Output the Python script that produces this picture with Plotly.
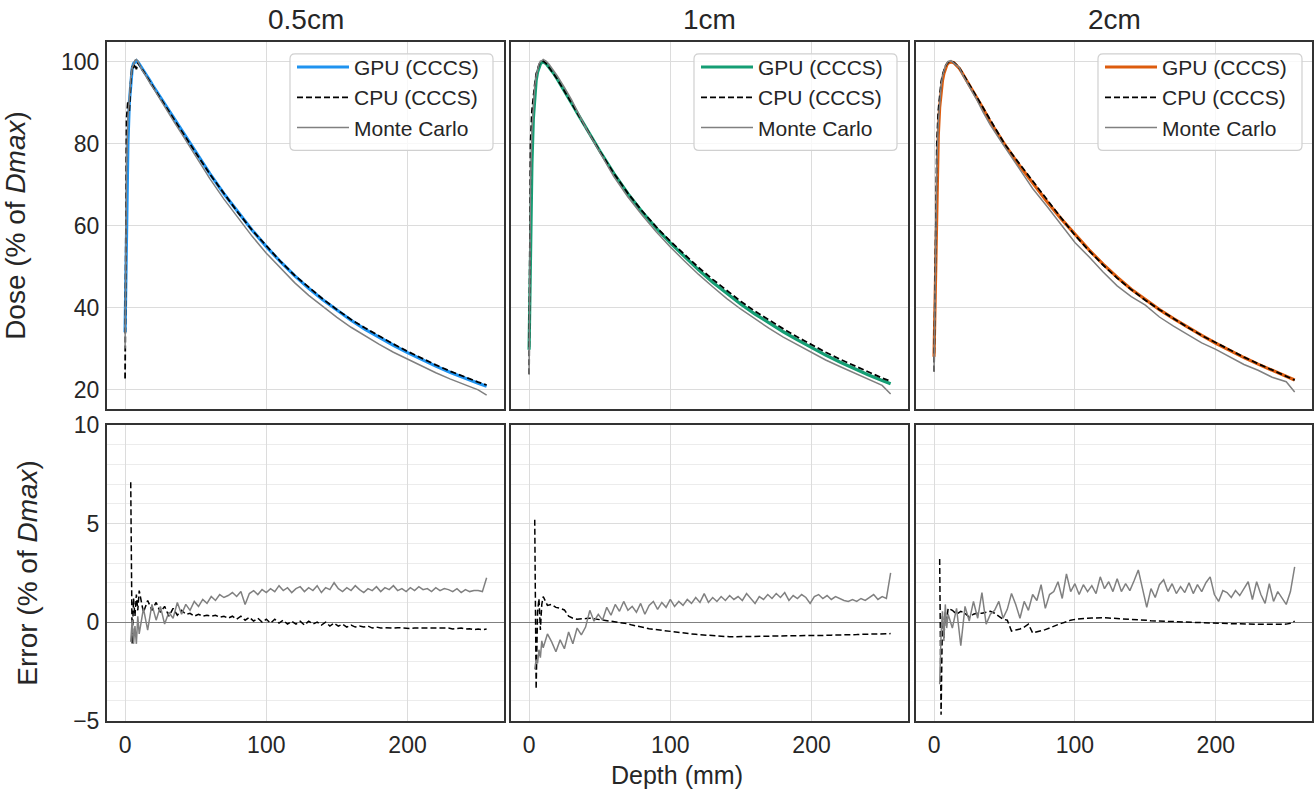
import plotly.graph_objects as go
from plotly.subplots import make_subplots

W, H = 1316, 799

FIELDS = ["0.5cm", "1cm", "2cm"]
GPU_COLORS = ["#1f93f0", "#159e74", "#dd5c0e"]

# depth grid for the dose curves (mm)
DOSE_DEPTH = [0, 1, 2, 3, 4, 5, 6, 7, 8, 9, 10,
              12, 14, 16, 18, 20, 25, 30, 35, 40,
              50, 60, 70, 80, 90, 100, 110, 120, 130, 140, 150,
              160, 170, 180, 190, 200, 210, 220, 230, 240, 250, 256]

GPU_05 = [34, 62, 80, 90, 95.5, 98.3, 99.6, 100, 100.3, 100, 99.5,
          98.4, 97.3, 96.2, 95.2, 94.0, 91.3, 88.6, 85.9, 83.2,
          77.9, 72.7, 67.8, 63.2, 58.9, 54.9, 51.2, 47.8, 44.7, 41.9, 39.3,
          36.9, 34.7, 32.7, 30.8, 29.0, 27.3, 25.7, 24.2, 22.8, 21.5, 20.8]
CPU_05 = [22.7, 86, 90.5, 88, 95, 99, 98.5, 99.5, 98.2, 99.8, 99.3,
          98.3, 97.1, 96.0, 95.0, 93.8, 91.1, 88.4, 85.7, 83.0,
          77.8, 72.6, 67.8, 63.2, 58.9, 55.0, 51.3, 47.9, 44.9, 42.1, 39.5,
          37.1, 35.0, 33.0, 31.1, 29.3, 27.6, 26.0, 24.5, 23.1, 21.8, 21.1]
MC_05 = [30, 74, 86, 92, 96, 98.5, 99.6, 100.4, 100.6, 100.2, 99.5,
         98.0, 97.0, 95.6, 94.6, 93.6, 90.7, 88.1, 85.2, 82.5,
         77.0, 71.5, 66.5, 61.8, 57.4, 53.3, 49.6, 46.1, 43.0, 40.2, 37.6,
         35.2, 33.0, 31.0, 29.1, 27.4, 25.7, 24.1, 22.6, 21.2, 19.9, 18.6]

GPU_1 = [29.7, 55, 75, 86, 92, 95.5, 97.5, 98.8, 99.5, 99.9, 100,
         99.6, 98.8, 97.9, 96.9, 95.8, 93.0, 90.0, 87.0, 84.0,
         78.3, 72.8, 67.8, 63.4, 59.4, 55.8, 52.4, 49.2, 46.2, 43.4, 40.8,
         38.4, 36.2, 34.1, 32.1, 30.2, 28.4, 26.7, 25.1, 23.6, 22.2, 21.4]
CPU_1 = [23.7, 80, 88, 92, 94.5, 97, 98.5, 99.3, 99.8, 100.1, 100.2,
         99.7, 98.8, 97.9, 96.9, 95.8, 92.9, 89.9, 86.9, 83.9,
         78.2, 72.8, 67.9, 63.6, 59.7, 56.2, 52.9, 49.8, 46.9, 44.1, 41.5,
         39.1, 36.9, 34.8, 32.8, 30.9, 29.1, 27.4, 25.8, 24.3, 22.8, 22.0]
MC_1 = [23.7, 70, 83, 90, 94, 96.5, 98.3, 99.5, 100.2, 100.3, 100.6,
        100.2, 99.5, 98.6, 97.8, 96.6, 93.8, 90.8, 87.4, 84.0,
        78.0, 72.0, 67.0, 62.6, 58.5, 54.8, 51.4, 48.1, 45.1, 42.2, 39.6,
        37.2, 34.9, 32.8, 30.9, 29.0, 27.2, 25.6, 24.0, 22.4, 21.0, 18.9]

GPU_2 = [28, 50, 70, 82, 89, 93, 95.5, 97.2, 98.4, 99.2, 99.7,
         100, 99.8, 99.2, 98.4, 97.3, 94.4, 91.5, 88.5, 85.3,
         79.9, 75.0, 70.4, 66.0, 61.8, 57.8, 54.1, 50.6, 47.4, 44.5, 41.9,
         39.5, 37.3, 35.2, 33.2, 31.3, 29.5, 27.8, 26.2, 24.7, 23.2, 22.3]
CPU_2 = [24.4, 62, 80, 88, 92, 95, 96.8, 98, 98.9, 99.5, 99.9,
         100.1, 99.9, 99.3, 98.5, 97.4, 94.5, 91.6, 88.6, 85.6,
         80.0, 75.4, 70.9, 66.4, 62.0, 57.7, 53.9, 50.4, 47.2, 44.4, 41.8,
         39.5, 37.3, 35.2, 33.2, 31.4, 29.6, 27.9, 26.3, 24.8, 23.3, 22.3]
MC_2 = [24.4, 55, 75, 85, 91, 94, 96.5, 98, 99, 99.6, 100.1,
        100.3, 99.7, 99.0, 98.6, 97.0, 94.0, 91.0, 87.6, 84.6,
        79.3, 74.2, 69.1, 64.8, 60.4, 55.9, 52.4, 48.7, 45.3, 42.7, 40.6,
        37.7, 35.5, 33.5, 31.4, 29.8, 28.0, 26.1, 24.7, 23.0, 21.9, 19.4]

# depth grid for the error curves (mm)
ERR_DEPTH = [4, 5, 6, 7, 8, 9, 10] + list(range(13, 257, 3))

CPU_ERR_05 = [7.1, -1.1, 1.2, 0.3, 1.4, 0.6, 1.6,
              0.5, 1.1, 0.6, 1.0, 0.5, 0.8, 0.3, 0.7, 0.35, 0.6,
              0.4, 0.45, 0.3, 0.4, 0.3, 0.35, 0.3, 0.35, 0.25, 0.3,
              0.2, 0.3, 0.15, 0.3, 0.1, 0.25, 0.05, 0.2, 0.0, 0.15,
              -0.05, 0.15, -0.05, 0.1, -0.1, 0.05, -0.1, 0.05, -0.15, 0.05,
              -0.1, 0.0, -0.15, 0.0, -0.2, -0.05, -0.2, -0.1, -0.25, -0.15,
              -0.25, -0.2, -0.25, -0.2, -0.3, -0.25, -0.3, -0.28, -0.3, -0.3,
              -0.28, -0.3, -0.3, -0.32, -0.3, -0.3, -0.32, -0.3, -0.3, -0.32,
              -0.3, -0.33, -0.3, -0.35, -0.32, -0.3, -0.35, -0.33, -0.38, -0.35,
              -0.38, -0.35]
MC_ERR_05 = [-1.0, 0.1, -1.1, -0.2, -1.1, 0.3, -0.6,
             0.7, -0.4, 0.9, 0.1, 0.8, -0.1, 0.5, 0.2, 1.0, 0.4,
             0.9, 0.6, 1.05, 0.8, 1.15, 0.95, 1.3, 1.1, 1.4, 1.25,
             1.35, 1.5, 1.3, 1.55, 0.9, 1.45, 1.6, 1.4, 1.65, 1.5,
             1.7, 1.55, 1.85, 1.6, 1.75, 1.5, 1.7, 1.8, 1.55, 1.75,
             1.6, 1.85, 1.5, 1.75, 1.65, 2.0, 1.7, 1.55, 1.75, 1.6,
             1.85, 1.65, 1.5, 1.7, 1.6, 1.8, 1.55, 1.75, 1.65, 1.85,
             1.6, 1.7, 1.55, 1.75, 1.6, 1.8, 1.65, 1.7, 1.55, 1.75,
             1.6, 1.7, 1.65, 1.55, 1.7, 1.5, 1.65, 1.55, 1.6, 1.6,
             1.55, 2.25]

CPU_ERR_1 = [5.2, -3.4, 0.5, 1.2, -0.4, 0.9, 1.3,
             0.85, 0.9, 0.75, 0.7, 0.62, 0.3, 0.2, 0.15, 0.15, 0.18,
             0.2, 0.17, 0.13, 0.1, 0.08, 0.05, 0.02, 0.0, -0.03, -0.08,
             -0.15, -0.2, -0.26, -0.3, -0.33, -0.36, -0.39, -0.42, -0.44, -0.46,
             -0.5, -0.53, -0.56, -0.58, -0.6, -0.62, -0.64, -0.66, -0.68, -0.7,
             -0.71, -0.72, -0.73, -0.74, -0.74, -0.74, -0.73, -0.72, -0.72, -0.71,
             -0.71, -0.71, -0.71, -0.71, -0.7, -0.7, -0.7, -0.7, -0.7, -0.7,
             -0.69, -0.69, -0.69, -0.68, -0.68, -0.67, -0.67, -0.66, -0.66, -0.65,
             -0.64, -0.64, -0.63, -0.63, -0.62, -0.62, -0.61, -0.61, -0.6, -0.6,
             -0.59, -0.58]
MC_ERR_1 = [-2.4, -1.9, -2.1, -1.4, -1.8, -0.95, -1.3,
            -0.6, -1.0, -1.5, -0.9, -1.35, -0.5, -1.1, -0.3, -0.65, -0.25,
            0.6, 0.05, 0.4, 0.1, 0.75, 0.35, 0.9, 0.55, 1.05, 0.6,
            0.8, 0.5, 0.95, 0.4, 0.85, 1.05, 0.65, 1.0, 0.75, 1.15,
            0.8, 1.05, 0.85, 1.15, 0.95, 1.25, 1.0, 1.45, 1.0, 1.25,
            1.05, 1.3, 1.1, 1.35, 1.15, 1.3, 1.1, 1.45, 1.2, 0.95,
            1.3, 1.15, 1.4, 1.2, 1.45, 1.25, 1.5, 1.1, 1.35, 1.2,
            1.4, 1.25, 0.95, 1.3, 1.4, 1.2, 1.35, 1.15, 1.3, 1.2,
            1.1, 1.05, 1.15, 1.05, 1.2, 1.1, 1.25, 1.4, 1.15, 1.3,
            1.2, 2.5]

CPU_ERR_2 = [3.2, -4.7, 0.3, -0.8, 0.5, 0.1, 0.7,
             0.6, 0.4, 0.55, 0.45, 0.25, 0.4, 0.47, 0.45, 0.5, 0.55,
             0.45, 0.3, 0.15, 0.1, -0.45, -0.4, -0.35, -0.25, -0.1, -0.55,
             -0.5, -0.45, -0.38, -0.3, -0.2, -0.12, -0.05, 0.03, 0.1, 0.14,
             0.17, 0.19, 0.2, 0.21, 0.22, 0.22, 0.22, 0.21, 0.2, 0.19,
             0.18, 0.16, 0.15, 0.13, 0.12, 0.1, 0.09, 0.07, 0.06, 0.05,
             0.04, 0.03, 0.02, 0.01, 0.0, -0.01, -0.02, -0.03, -0.03, -0.04,
             -0.05, -0.05, -0.06, -0.06, -0.07, -0.07, -0.08, -0.08, -0.09, -0.09,
             -0.1, -0.1, -0.1, -0.11, -0.11, -0.11, -0.12, -0.12, -0.11, -0.1,
             -0.06, 0.05]
MC_ERR_2 = [-3.15, -0.6, 0.55, -0.95, 0.9, -0.3, 0.4,
            -0.3, 0.7, -1.2, 0.8, 0.05, 1.05, 0.2, 1.5, -0.1, 0.4,
            0.6, 1.05, 0.2, 0.65, 1.45, 0.9, 0.2, 1.05, 0.6, 1.4,
            1.1, 1.9, 0.7, 1.4, 1.55, 2.05, 1.2, 2.45, 1.55, 1.95,
            1.4, 1.9, 1.55, 1.85, 1.45, 2.3, 1.7, 2.05, 1.55, 2.2,
            1.55, 1.95, 1.6, 2.1, 2.65, 1.7, 0.75, 1.7, 1.25, 1.9,
            2.15, 1.55, 1.95, 1.45, 1.8, 1.5, 2.0, 1.45, 1.9, 1.55,
            2.0, 2.3, 1.4, 1.05, 1.6, 1.5, 1.25, 1.6, 1.35, 1.7,
            2.05, 1.15, 2.05, 1.4, 0.95, 1.95, 1.05, 1.55, 1.2, 0.9,
            1.55, 2.8]

DOSE = [(GPU_05, CPU_05, MC_05), (GPU_1, CPU_1, MC_1), (GPU_2, CPU_2, MC_2)]
ERRS = [(CPU_ERR_05, MC_ERR_05), (CPU_ERR_1, MC_ERR_1), (CPU_ERR_2, MC_ERR_2)]

FONT = "Liberation Sans, Arial, sans-serif"
TXT = "#262626"
GRID = "#dcdcdc"
FRAME = "#333333"
MC_GREY = "#808080"

# target pixel positions in the picture
COL_PX = [(107, 504), (511, 908), (916, 1312)]
ROW_PX = [(39, 408), (424, 721)]
LEG_PX = [(290, 51, 493, 148), (694, 51, 897, 148), (1098, 51, 1302, 148)]

# the page comes out a little squeezed vertically, so map target px back
Y_OFF, Y_SCALE = 10, 0.972


def px_x(v):
    return v / W


def px_y(v):
    return 1 - (v - Y_OFF) / (Y_SCALE * H)


def round_box(x0, y0, x1, y1, r=5):
    # rounded rectangle path in paper coords
    rx, ry = r / W, r / (H * Y_SCALE)
    a, b, c, d = px_x(x0), px_x(x1), px_y(y0), px_y(y1)
    return (f"M{a+rx},{c} L{b-rx},{c} Q{b},{c} {b},{c-ry} L{b},{d+ry} Q{b},{d} {b-rx},{d} "
            f"L{a+rx},{d} Q{a},{d} {a},{d+ry} L{a},{c-ry} Q{a},{c} {a+rx},{c} Z")


fig = make_subplots(rows=2, cols=3)

for i in range(3):
    gpu, cpu, mc = DOSE[i]
    leg = "legend" if i == 0 else f"legend{i+1}"
    fig.add_trace(go.Scatter(x=DOSE_DEPTH, y=gpu, mode="lines", name="GPU (CCCS)",
                             line=dict(color=GPU_COLORS[i], width=3.2),
                             legend=leg, legendgroup=f"g{i}a"), row=1, col=i + 1)
    fig.add_trace(go.Scatter(x=DOSE_DEPTH, y=cpu, mode="lines", name="CPU (CCCS)",
                             line=dict(color="black", width=1.8, dash="6px,3px"),
                             legend=leg, legendgroup=f"g{i}b"), row=1, col=i + 1)
    fig.add_trace(go.Scatter(x=DOSE_DEPTH, y=mc, mode="lines", name="Monte Carlo",
                             line=dict(color=MC_GREY, width=1.5),
                             legend=leg, legendgroup=f"g{i}c"), row=1, col=i + 1)

    cpu_err, mc_err = ERRS[i]
    fig.add_trace(go.Scatter(x=ERR_DEPTH, y=cpu_err, mode="lines", showlegend=False,
                             line=dict(color="black", width=1.5, dash="6px,3px")),
                  row=2, col=i + 1)
    fig.add_trace(go.Scatter(x=ERR_DEPTH, y=mc_err, mode="lines", showlegend=False,
                             line=dict(color=MC_GREY, width=1.5)),
                  row=2, col=i + 1)

axis_common = dict(showline=True, mirror=True, linecolor=FRAME, linewidth=2,
                   showgrid=True, gridcolor=GRID, gridwidth=1.3, ticks="",
                   tickfont=dict(size=23, color=TXT, family=FONT))

for r in range(2):
    for c in range(3):
        n = r * 3 + c + 1
        xa = "xaxis" if n == 1 else f"xaxis{n}"
        ya = "yaxis" if n == 1 else f"yaxis{n}"
        xd = [px_x(COL_PX[c][0]), px_x(COL_PX[c][1])]
        yd = [px_y(ROW_PX[r][1]), px_y(ROW_PX[r][0])]
        fig.layout[xa].update(domain=xd, range=[-12.8, 268.3], tickvals=[0, 100, 200],
                              zeroline=False, showticklabels=(r == 1),
                              ticklabelstandoff=3, **axis_common)
        if r == 0:
            fig.layout[ya].update(domain=yd, range=[15.2, 104.9],
                                  tickvals=[20, 40, 60, 80, 100], zeroline=False,
                                  showticklabels=(c == 0), ticklabelstandoff=1,
                                  **axis_common)
        else:
            fig.layout[ya].update(domain=yd, range=[-5, 10], tickvals=[-5, 0, 5, 10],
                                  zeroline=True, zerolinecolor=MC_GREY, zerolinewidth=1.2,
                                  minor=dict(dtick=1, showgrid=True, gridcolor="#ececec",
                                             gridwidth=1.2),
                                  showticklabels=(c == 0), ticklabelstandoff=1,
                                  **axis_common)

fig.layout.yaxis.title = dict(text="Dose (% of <i>Dmax</i>)", standoff=27,
                              font=dict(size=28, color=TXT, family=FONT))
fig.layout.yaxis4.title = dict(text="Error (% of <i>Dmax</i>)", standoff=27,
                               font=dict(size=28, color=TXT, family=FONT))

shapes = []
for i, (x0, y0, x1, y1) in enumerate(LEG_PX):
    shapes.append(dict(type="path", xref="paper", yref="paper", layer="above",
                       path=round_box(x0, y0, x1, y1),
                       fillcolor="rgba(255,255,255,0.8)",
                       line=dict(color="#d0d0d0", width=1.2)))
    leg = dict(x=px_x(x0 + 2), y=px_y(y0 - 7), xanchor="left", yanchor="top",
               bgcolor="rgba(0,0,0,0)", borderwidth=0, traceorder="grouped",
               tracegroupgap=0, itemwidth=52,
               font=dict(size=21, color=TXT, family=FONT))
    key = "legend" if i == 0 else f"legend{i+1}"
    fig.layout[key] = leg

annotations = []
for i, name in enumerate(FIELDS):
    cx = (COL_PX[i][0] + COL_PX[i][1]) / 2
    annotations.append(dict(text=name, x=px_x(cx), y=px_y(17), xref="paper", yref="paper",
                            showarrow=False, xanchor="center", yanchor="middle",
                            font=dict(size=28, color=TXT, family=FONT)))
annotations.append(dict(text="Depth (mm)", x=px_x(677), y=px_y(776), xref="paper",
                        yref="paper", showarrow=False, xanchor="center", yanchor="middle",
                        font=dict(size=25, color=TXT, family=FONT)))

fig.update_layout(width=W, height=H, margin=dict(l=0, r=0, t=0, b=0),
                  paper_bgcolor="white", plot_bgcolor="white",
                  font=dict(family=FONT, color=TXT),
                  shapes=shapes, annotations=annotations)

fig.write_html("out.html", config={"displayModeBar": False},
               post_script="document.body.style.margin='0';")
